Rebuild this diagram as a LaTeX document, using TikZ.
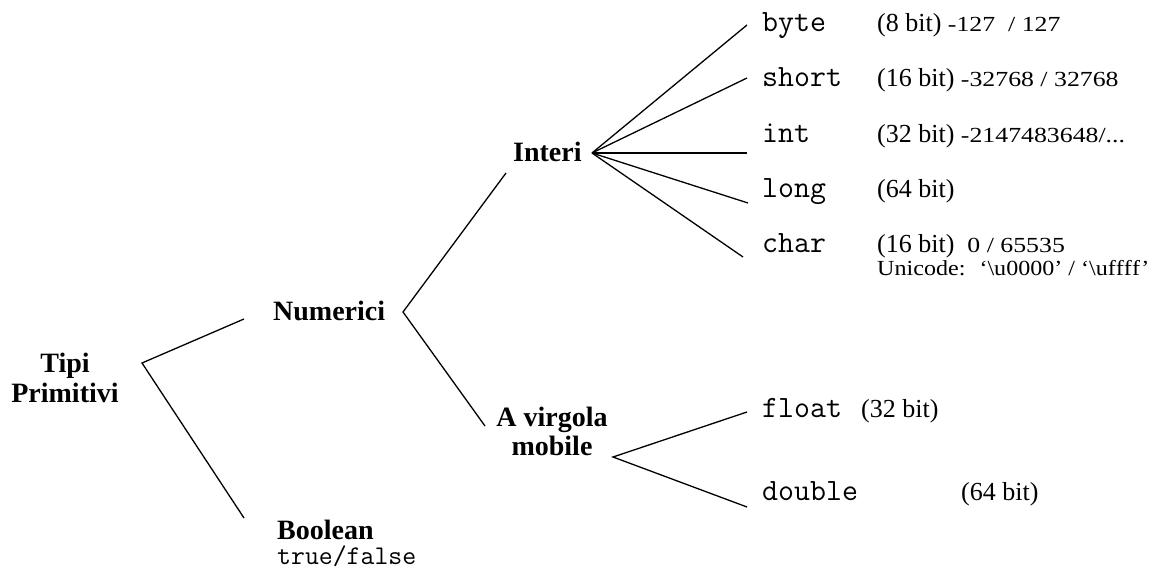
\documentclass[tikz,border=0pt]{standalone}
\usepackage{fontspec}
\usepackage{graphicx}
\setmainfont{Liberation Serif}
% value ranges are set a little smaller and wider than the bit counts
\newcommand\rangetxt[1]{\scalebox{1.2}[1]{\fontsize{21.5}{24}\selectfont #1}}
\tikzset{
  lbl/.style={font=\fontsize{28}{30}\selectfont\bfseries, inner sep=0pt, anchor=base west},
  typ/.style={font=\fontsize{31}{32}\selectfont\ttfamily, inner sep=0pt, anchor=base west},
  info/.style={font=\fontsize{26}{28}\selectfont, inner sep=0pt, anchor=base west},
  edge/.style={line width=1.3pt, line join=miter}
}
\begin{document}
\begin{tikzpicture}[x=1pt,y=-1pt]
\useasboundingbox (0,0) rectangle (1153,569);

% category labels
\node[lbl, anchor=base] (tipi) at (65,372)
  {\begin{tabular}[t]{@{}c@{}}Tipi\\Primitivi\end{tabular}};
\node[lbl] (num) at (273,320) {Numerici};
\node[lbl] (bool) at (277,539) {Boolean};
\node[typ, font=\fontsize{27}{28}\selectfont\ttfamily] (tf) at (277,564) {true/false};
\node[lbl] (interi) at (513,162) {Interi};
\node[lbl, anchor=base, font=\fontsize{28}{29}\selectfont\bfseries] (virg) at (552,426)
  {\begin{tabular}[t]{@{}c@{}}A virgola\\mobile\end{tabular}};

% integer types
\node[typ] (tbyte)  at (762,32)  {byte};
\node[typ] (tshort) at (762,87)  {short};
\node[typ] (tint)   at (762,143) {int};
\node[typ] (tlong)  at (762,198) {long};
\node[typ] (tchar)  at (762,253) {char};
\node[info] (ibyte)  at (877,32)  {(8 bit) \rangetxt{-127 \ / 127}};
\node[info] (ishort) at (877,87)  {(16 bit) \rangetxt{-32768 / 32768}};
\node[info] (iint)   at (877,143) {(32 bit) \rangetxt{-2147483648/...}};
\node[info] (ilong)  at (877,198) {(64 bit)};
\node[info] (ichar)  at (877,253) {(16 bit) \ \rangetxt{0 / 65535}};
\node[info, font=\fontsize{21.5}{24}\selectfont] (iuni) at (877,276)
  {\scalebox{1.12}[1]{Unicode: \ ‘\textbackslash u0000’ / ‘\textbackslash uf\kern0ptf\kern0ptf\kern0ptf’}};

% floating point types
\node[typ] (tfloat)  at (762,417) {float};
\node[typ] (tdouble) at (762,500) {double};
\node[info] (ifloat)  at (861,417) {(32 bit)};
\node[info] (idouble) at (961,500) {(64 bit)};

% branch points
\coordinate (tipi-v) at (142,363);
\coordinate (num-in) at (244,319);
\coordinate (bool-in) at (244,518);
\coordinate (num-v) at (403,312);
\coordinate (interi-in) at (506,173);
\coordinate (virg-in) at (485,426);
\coordinate (interi-v) at (592,153);
\coordinate (byte-in) at (747,25);
\coordinate (short-in) at (747,78);
\coordinate (int-in) at (747,153);
\coordinate (long-in) at (748,203);
\coordinate (char-in) at (743,257);
\coordinate (virg-v) at (613,457);
\coordinate (float-in) at (747,412);
\coordinate (double-in) at (747,507);

% connectors
\draw[edge] (num-in) -- (tipi-v) -- (bool-in);
\draw[edge] (interi-in) -- (num-v) -- (virg-in);
\foreach \t in {byte,short,int,long,char}
  \draw[edge] (interi-v) -- (\t-in);
\draw[edge] (float-in) -- (virg-v) -- (double-in);
\end{tikzpicture}
\end{document}
